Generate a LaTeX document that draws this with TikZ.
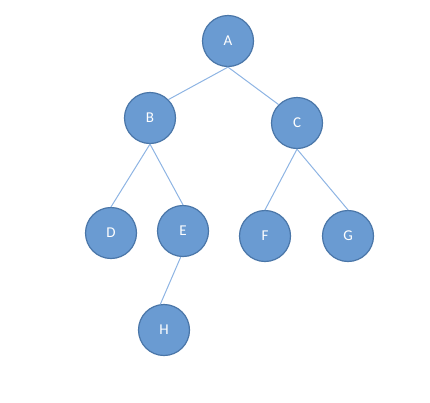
\documentclass[tikz,border=0pt]{standalone}
\usepackage{fontspec}
\setmainfont{Carlito}
\definecolor{nodefill}{HTML}{6A9BD2}
\definecolor{nodeline}{HTML}{4A76A8}
\definecolor{edgeline}{HTML}{8EB4E3}
\begin{document}
\begin{tikzpicture}[x=1pt, y=-1pt,
    every node/.style={font=\fontsize{15}{17}\selectfont},
    treenode/.style={circle, draw=nodeline, line width=1.2pt, fill=nodefill, text=white, minimum size=51pt, inner sep=0pt},
    treeedge/.style={edgeline, line width=1pt}]
            \useasboundingbox (0,0) rectangle (430,402);
            % Nodes
            \node[treenode] (A) at (228,41) {A};
            \node[treenode] (B) at (150,118) {B};
            \node[treenode] (C) at (297,123) {C};
            \node[treenode] (D) at (111,233) {D};
            \node[treenode] (E) at (183,231) {E};
            \node[treenode] (F) at (265,236) {F};
            \node[treenode] (G) at (348,236) {G};
            \node[treenode] (H) at (164,330) {H};
            % Edges
            \draw[treeedge] (A.south) -- (B.45);
            \draw[treeedge] (A.south) -- (C.135);
            \foreach \c in {D,E}
                \draw[treeedge] (B.south) -- (\c.north);
            \foreach \c in {F,G}
                \draw[treeedge] (C.south) -- (\c.north);
            \draw[treeedge] (E.265) -- (H.98);
        \end{tikzpicture}
\end{document}
